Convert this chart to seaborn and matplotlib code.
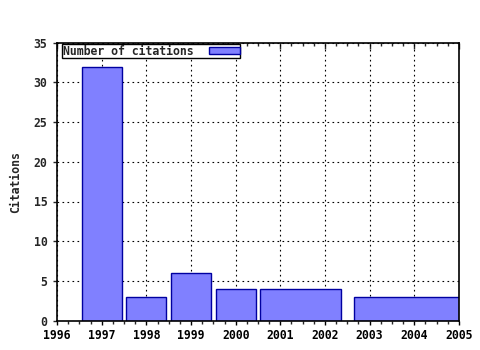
import matplotlib
matplotlib.use("Agg")
import matplotlib.pyplot as plt
import seaborn as sns
import numpy as np

# Data
bar_start = [1996.55, 1997.55, 1998.55, 1999.55, 2000.55, 2002.65]
bar_end = [1997.45, 1998.45, 1999.45, 2000.45, 2002.35, 2005.35]
citations = [32, 3, 6, 4, 4, 3]
year_ticks = [1996, 1997, 1998, 1999, 2000, 2001, 2002, 2003, 2004, 2005]
y_ticks = [0, 5, 10, 15, 20, 25, 30, 35]

sns.set_style("white")
plt.rcParams['font.family'] = ['DejaVu Sans Mono', 'DejaVu Sans']
plt.rcParams['font.weight'] = 'bold'

fig = plt.figure(figsize=(4.8, 3.5), dpi=100)
ax = fig.add_axes([0.119, 0.084, 0.837, 0.794])

widths = [e - s for s, e in zip(bar_start, bar_end)]
ax.bar(bar_start, citations, width=widths, align='edge', color='#8080ff',
       edgecolor='#0000a0', linewidth=1.0, label='Number of citations', zorder=2,
       clip_on=True)

ax.set_xlim(1996, 2005)
ax.set_ylim(0, 35)
ax.set_xticks(year_ticks)
ax.set_xticklabels([str(y) for y in year_ticks], fontsize=8.3, fontweight='bold')
ax.set_yticks(y_ticks)
ax.set_yticklabels([str(v) for v in y_ticks], fontsize=8.3, fontweight='bold')
ax.set_xticks(np.arange(1996, 2005.01, 0.25), minor=True)
ax.tick_params(axis='x', which='major', direction='out', length=3, width=1, bottom=True, top=False, pad=3, colors='black')
ax.tick_params(axis='x', which='minor', direction='out', length=2, width=1, bottom=True, top=False)
ax.tick_params(axis='y', which='major', direction='out', length=3, width=1, left=True, right=False, pad=4)

sec = ax.secondary_xaxis('top')
sec.set_xticks(year_ticks)
sec.set_xticks(np.arange(1996, 2005.01, 0.25), minor=True)
sec.tick_params(axis='x', which='major', direction='in', length=4, width=1, labeltop=False)
sec.tick_params(axis='x', which='minor', direction='in', length=2, width=1)
sec.spines['top'].set_visible(False)

ax.grid(True, which='major', linestyle=(0, (1.5, 3)), color='black', linewidth=0.8, zorder=0)
ax.set_axisbelow(True)
for sp in ax.spines.values():
    sp.set_color('black')
    sp.set_linewidth(1.2)
    sp.set_visible(True)

ax.set_ylabel('Citations', fontsize=8.3, fontweight='bold', labelpad=8)

leg = ax.legend(loc='upper left', bbox_to_anchor=(0.013, 0.995), markerfirst=False,
                fancybox=False, frameon=True, edgecolor='black', framealpha=1,
                borderpad=0.05, handlelength=2.7, handleheight=0.55, borderaxespad=0,
                handletextpad=1.3,
                prop={'family': 'DejaVu Sans Mono', 'weight': 'bold', 'size': 8.3})
leg.get_frame().set_linewidth(1.0)

fig.savefig('out.png', dpi=100)
